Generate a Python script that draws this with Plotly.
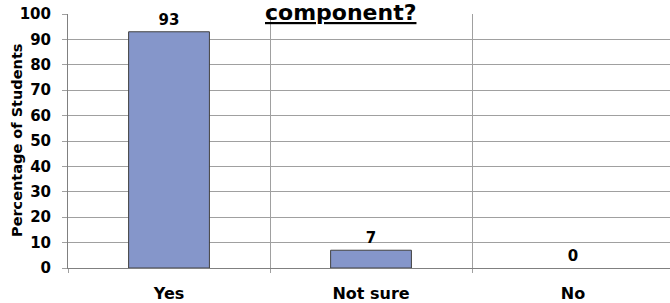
import plotly.graph_objects as go

categories = ["Yes", "Not sure", "No"]
values = [93, 7, 0]
y_ticks = [0, 10, 20, 30, 40, 50, 60, 70, 80, 90, 100]
title_text = "component?"
y_title = "Percentage of Students"

font_family = "DejaVu Sans, Verdana, sans-serif"

fig = go.Figure()
fig.add_trace(go.Bar(
    x=categories,
    y=values,
    width=0.4,
    marker=dict(color="#8596CA",
                line=dict(color="#404040", width=[1 if v > 0 else 0 for v in values])),
    text=[str(v) for v in values],
    textposition="outside",
    cliponaxis=False,
    textfont=dict(family=font_family, size=15, color="#000000", weight="bold"),
))

fig.update_layout(
    width=670,
    height=303,
    margin=dict(l=68, r=0, t=14, b=35, autoexpand=False),
    paper_bgcolor="white",
    plot_bgcolor="white",
    showlegend=False,
    font=dict(family=font_family, color="#000000"),
    annotations=[
        dict(
            text="<b><u>" + title_text + "</u></b>",
            xref="paper", yref="paper",
            x=0.453, y=1,
            xanchor="center", yanchor="bottom",
            yshift=-13,
            showarrow=False,
            font=dict(family=font_family, size=22, color="#000000"),
        ),
        dict(
            text="<b>" + y_title + "</b>",
            xref="paper", yref="paper",
            x=0, y=0.5,
            xanchor="center", yanchor="middle",
            xshift=-51,
            textangle=-90,
            showarrow=False,
            font=dict(family=font_family, size=14.5, color="#000000"),
        ),
    ],
)

fig.update_xaxes(
    type="category",
    range=[-0.5, 2.48],
    tickson="boundaries",
    automargin=False,
    showgrid=True,
    gridcolor="#A0A0A0",
    gridwidth=1,
    ticks="outside",
    ticklen=4,
    tickcolor="#A0A0A0",
    showline=True,
    linecolor="#808080",
    linewidth=1,
    tickfont=dict(family=font_family, size=16, color="#000000", weight="bold"),
    ticklabelstandoff=11,
)

fig.update_yaxes(
    range=[0, 100],
    tickvals=y_ticks,
    automargin=False,
    showgrid=True,
    gridcolor="#A0A0A0",
    gridwidth=1,
    ticks="outside",
    ticklen=5,
    tickcolor="#A0A0A0",
    showline=True,
    linecolor="#808080",
    linewidth=1,
    zeroline=False,
    tickfont=dict(family=font_family, size=15, color="#000000", weight="bold"),
    ticklabelstandoff=8,
)

fig.write_html(
    "out.html",
    config={"displayModeBar": False},
    post_script="document.body.style.margin='0';document.body.style.overflow='hidden';",
)
